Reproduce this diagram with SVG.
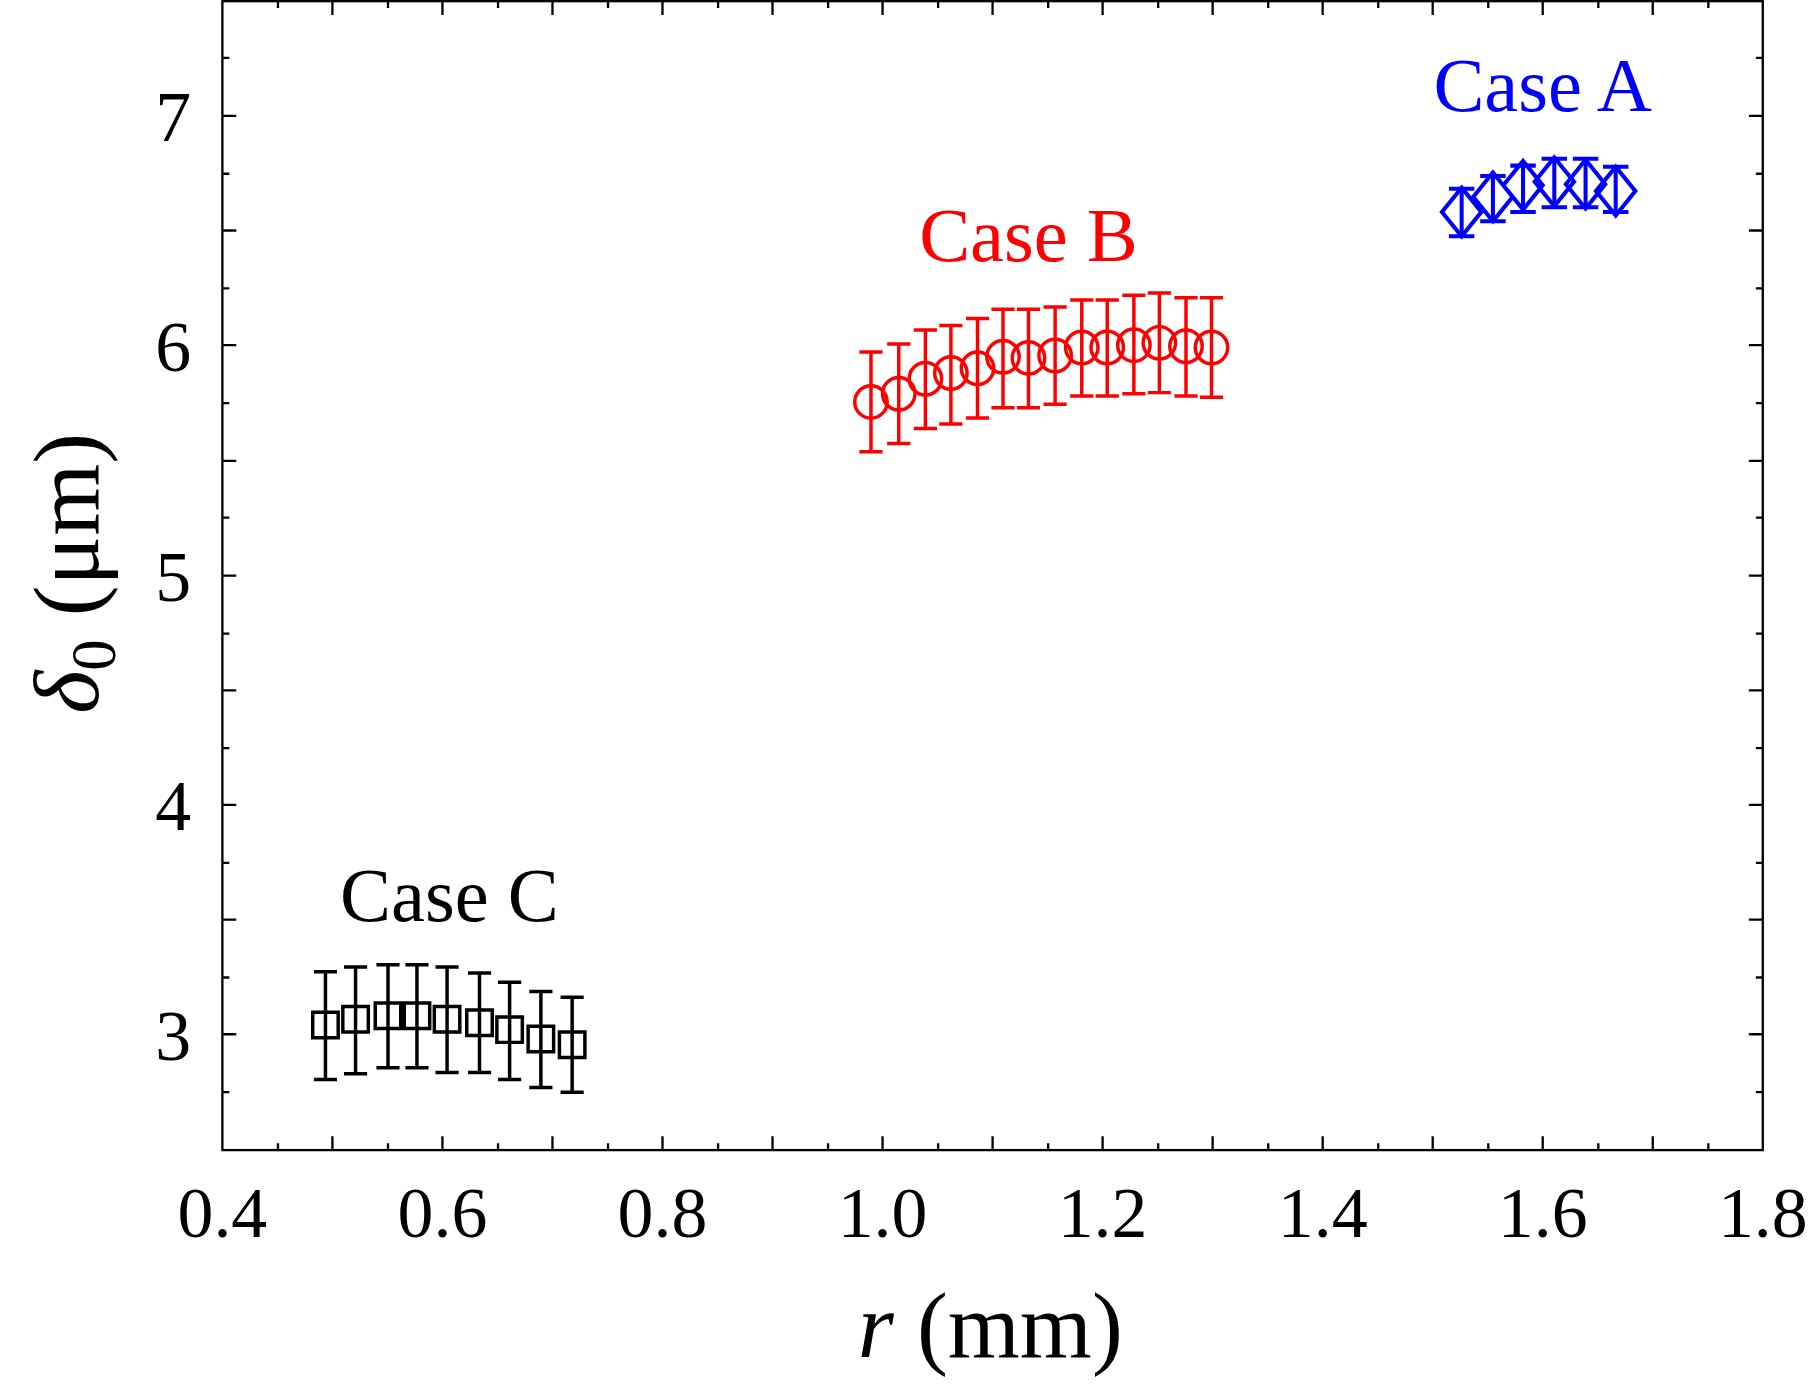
<svg xmlns="http://www.w3.org/2000/svg" width="1816" height="1387" viewBox="0 0 1816 1387">
<style>
text{font-family:"Liberation Serif","Times New Roman",serif}
.tk{stroke:#000;stroke-width:2;fill:none}
.lab{font-size:62px}
.c{stroke:#000;stroke-width:3;fill:none}
.b{stroke:#f00;stroke-width:3;fill:none}
.a{stroke:#00f;stroke-width:3.5;fill:none}
</style>
<rect width="1816" height="1387" fill="#fff"/>
<g transform="scale(1.1582)">
<g id="axes">
<rect x="192" y="1" width="1330" height="992" class="tk"/>
<path class="tk" d="M240,993v-6M287,993v-12M335,993v-6M382,993v-12M430,993v-6M477,993v-12M525,993v-6M572,993v-12M620,993v-6M667,993v-12M715,993v-6M762,993v-12M810,993v-6M857,993v-12M905,993v-6M952,993v-12M1000,993v-6M1047,993v-12M1095,993v-6M1142,993v-12M1190,993v-6M1237,993v-12M1285,993v-6M1332,993v-12M1380,993v-6M1427,993v-12M1475,993v-6
M240,1v6M287,1v12M335,1v6M382,1v12M430,1v6M477,1v12M525,1v6M572,1v12M620,1v6M667,1v12M715,1v6M762,1v12M810,1v6M857,1v12M905,1v6M952,1v12M1000,1v6M1047,1v12M1095,1v6M1142,1v12M1190,1v6M1237,1v12M1285,1v6M1332,1v12M1380,1v6M1427,1v12M1475,1v6"/>
<path class="tk" d="M192,943h6M192,893h12M192,844h6M192,794h12M192,745h6M192,695h12M192,646h6M192,596h12M192,547h6M192,497h12M192,447h6M192,398h12M192,348h6M192,298h12M192,249h6M192,199h12M192,150h6M192,100h12M192,50h6
M1522,943h-6M1522,893h-12M1522,844h-6M1522,794h-12M1522,745h-6M1522,695h-12M1522,646h-6M1522,596h-12M1522,547h-6M1522,497h-12M1522,447h-6M1522,398h-12M1522,348h-6M1522,298h-12M1522,249h-6M1522,199h-12M1522,150h-6M1522,100h-12M1522,50h-6"/>
<g class="lab" text-anchor="middle">
<text x="192" y="1068">0.4</text><text x="382" y="1068">0.6</text><text x="572" y="1068">0.8</text><text x="762" y="1068">1.0</text><text x="952" y="1068">1.2</text><text x="1142" y="1068">1.4</text><text x="1332" y="1068">1.6</text><text x="1522" y="1068">1.8</text>
</g>
<g class="lab" text-anchor="end">
<text x="165" y="915">3</text><text x="165" y="717">4</text><text x="165" y="519">5</text><text x="165" y="320">6</text><text x="165" y="122">7</text>
</g>
<text x="855" y="1172" text-anchor="middle" font-size="80"><tspan font-style="italic">r</tspan> (mm)</text>
<text transform="translate(85,495) rotate(-90)" text-anchor="middle" font-size="80"><tspan font-style="italic">δ</tspan><tspan font-size="54" dy="14">0</tspan><tspan dy="-14"> (μm)</tspan></text>
</g>
<g id="caseC">
<path class="c" d="M281,839v93M271,839h20M271,932h20M307,835v92M297,835h20M297,927h20M335,833v89M325,833h20M325,922h20M360,833v89M350,833h20M350,922h20M386,835v91M376,835h20M376,926h20M414,840v86M404,840h20M404,926h20M440,848v84M430,848h20M430,932h20M467,856v83M457,856h20M457,939h20M494,861v82M484,861h20M484,943h20"/>
<path class="c" d="M270,874h22v22h-22zM296,869h22v22h-22zM324,866h22v22h-22zM349,866h22v22h-22zM375,869h22v22h-22zM403,872h22v22h-22zM429,878h22v22h-22zM456,886h22v22h-22zM483,891h22v22h-22z"/>
<text x="388" y="795" font-size="66" text-anchor="middle">Case C</text>
</g>
<g id="caseB">
<path class="b" d="M752,304v86M742,304h20M742,390h20M776,297v86M766,297h20M766,383h20M799,285v85M789,285h20M789,370h20M821,281v85M811,281h20M811,366h20M844,275v86M834,275h20M834,361h20M866,267v85M856,267h20M856,352h20M888,267v85M878,267h20M878,352h20M911,265v84M901,265h20M901,349h20M934,259v83M924,259h20M924,342h20M956,259v83M946,259h20M946,342h20M979,255v85M969,255h20M969,340h20M1001,253v86M991,253h20M991,339h20M1024,257v85M1014,257h20M1014,342h20M1046,257v86M1036,257h20M1036,343h20"/>
<g class="b"><circle cx="752" cy="347" r="14"/><circle cx="776" cy="340" r="14"/><circle cx="799" cy="327" r="14"/><circle cx="821" cy="322" r="14"/><circle cx="844" cy="318" r="14"/><circle cx="866" cy="308" r="14"/><circle cx="888" cy="309" r="14"/><circle cx="911" cy="307" r="14"/><circle cx="934" cy="300" r="14"/><circle cx="956" cy="300" r="14"/><circle cx="979" cy="298" r="14"/><circle cx="1001" cy="296" r="14"/><circle cx="1024" cy="299" r="14"/><circle cx="1046" cy="300" r="14"/></g>
<text x="888" y="225" font-size="66" text-anchor="middle" fill="#f00">Case B</text>
</g>
<g id="caseA">
<path class="a" d="M1262,163v41M1251,163h22M1251,204h22M1289,152v39M1278,152h22M1278,191h22M1315,143v40M1304,143h22M1304,183h22M1342,137v42M1331,137h22M1331,179h22M1369,137v42M1358,137h22M1358,179h22M1395,144v39M1384,144h22M1384,183h22"/>
<path class="a" d="M1262,162l17,21l-17,21l-17,-21zM1289,149l17,21l-17,21l-17,-21zM1315,139l17,21l-17,21l-17,-21zM1342,136l17,21l-17,21l-17,-21zM1369,138l17,21l-17,21l-17,-21zM1395,144l17,21l-17,21l-17,-21z"/>
<text x="1332" y="96" font-size="66" text-anchor="middle" fill="#00f">Case A</text>
</g>
</g>
</svg>
